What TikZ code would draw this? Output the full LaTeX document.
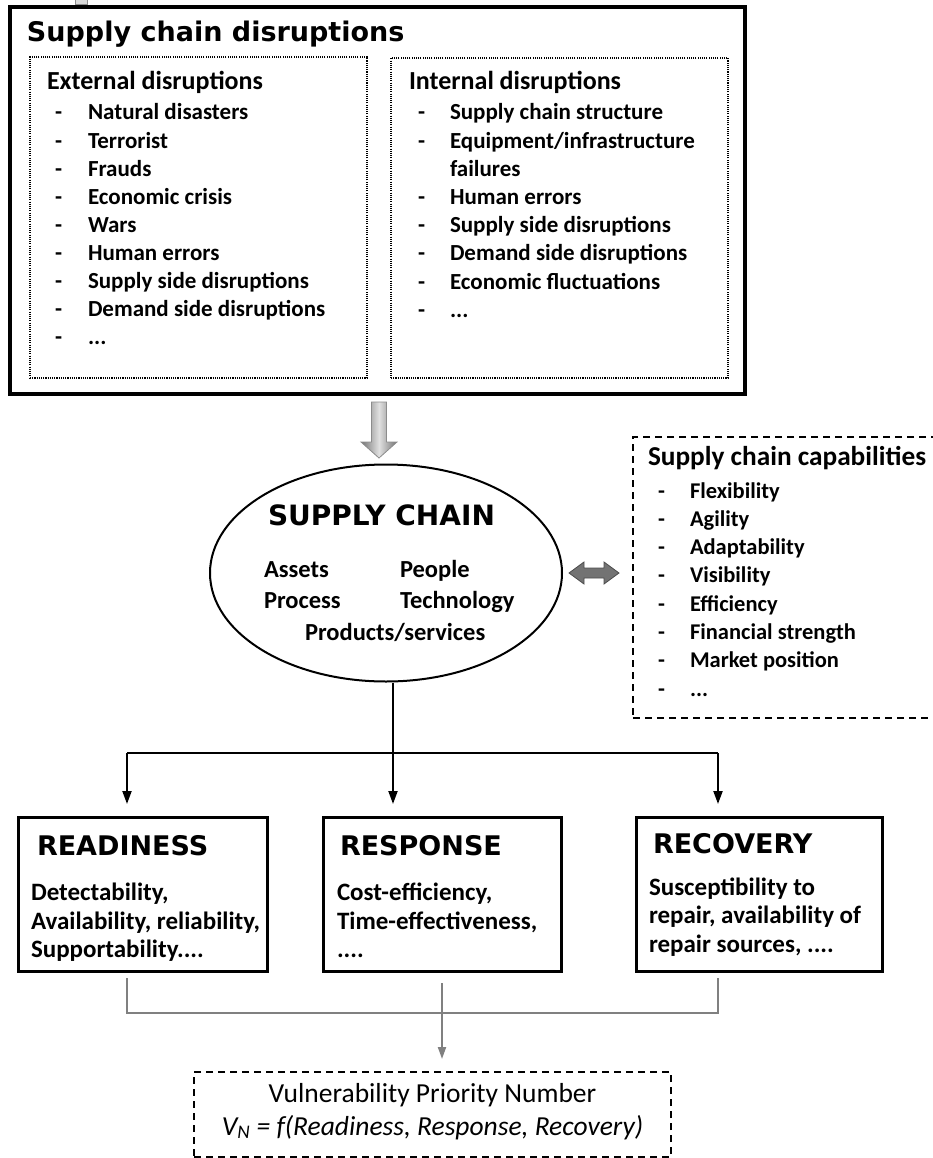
\documentclass[tikz,border=0pt]{standalone}
\usepackage{fontspec}
\setmainfont{Carlito}
\newfontfamily\headfont{DejaVu Sans}
\usetikzlibrary{shapes.geometric, arrows.meta}
\newcommand{\etcdots}{...}

\begin{document}
\begin{tikzpicture}[x=1pt, y=-1pt,
  txt/.style={anchor=base west, inner sep=0pt, outer sep=0pt},
  bigtitle/.style={txt, font=\headfont\bfseries\fontsize{27}{32}\selectfont},
  listhead/.style={txt, font=\bfseries\fontsize{26}{30}\selectfont},
  caphead/.style={txt, font=\bfseries\fontsize{27.3}{31}\selectfont},
  entry/.style={txt, font=\bfseries\fontsize{23}{28}\selectfont},
  capentry/.style={txt, font=\bfseries\fontsize{22.5}{27}\selectfont},
  core/.style={txt, font=\bfseries\fontsize{24.5}{29}\selectfont},
  coretitle/.style={txt, font=\headfont\bfseries\fontsize{28}{33}\selectfont},
  phasehead/.style={txt, font=\headfont\bfseries\fontsize{27}{32}\selectfont},
  phasebody/.style={txt, font=\bfseries\fontsize{25}{29}\selectfont},
  vpntext/.style={anchor=base, inner sep=0pt, font=\fontsize{27.5}{32}\selectfont},
  frame/.style={draw, anchor=north west, inner sep=0pt, outer sep=0pt},
  dotbox/.style={frame, line width=1.6pt, dash pattern=on 1.1pt off 1.1pt},
  dashbox/.style={frame, line width=1.8pt, dash pattern=on 7pt off 5pt},
  phasebox/.style={frame, line width=3pt},
  conn/.style={line width=2pt, black},
  gconn/.style={line width=2pt, black!50},
  tip/.style={-{Triangle[length=13pt, width=9pt]}},
]
\useasboundingbox (0,0) rectangle (933,1158);

% small mark at the top edge
\draw[black!45, fill=black!15, line width=0.8pt] (75,-2) rectangle (87,4);

% ---- disruptions panel ----
\node[frame, line width=3.5pt, minimum width=735, minimum height=387] (outer) at (10,7) {};
\node[bigtitle] (title) at (27,42) {Supply chain disruptions};

\node[dotbox, minimum width=337, minimum height=321] (extbox) at (30,57) {};
\node[dotbox, minimum width=337, minimum height=320] (intbox) at (391,58) {};

\node[listhead] (exthead) at (47,90) {External disruptions};
\foreach \t [count=\i] in {Natural disasters, Terrorist, Frauds, Economic crisis, Wars,
    Human errors, Supply side disruptions, Demand side disruptions, \etcdots}{
  \node[entry] (extd\i) at (55,{120+28.1*(\i-1)}) {-};
  \node[entry] (ext\i) at (88,{120+28.1*(\i-1)}) {\t};
}

\node[listhead] (inthead) at (409,90) {Internal disruptions};
\foreach \t [count=\i] in {Supply chain structure, Equipment/infrastructure, failures,
    Human errors, Supply side disruptions, Demand side disruptions,
    Economic fluctuations, \etcdots}{
  \node[entry] (int\i) at (450,{120+28.2*(\i-1)}) {\t};
}
\foreach \i in {1,2,4,5,6,7,8}{
  \node[entry] (intd\i) at (418,{120+28.2*(\i-1)}) {-};
}

% shaded block arrow down to the supply chain
\draw[black!45, line width=0.8pt, left color=black!55, right color=black!55, middle color=black!12]
  (371.5,402) -- (386.5,402) -- (386.5,442) -- (397,442) -- (379,458)
  -- (361,442) -- (371.5,442) -- cycle;

% ---- supply chain ----
\node[draw, ellipse, line width=2pt, minimum width=352, minimum height=217,
  inner sep=0pt] (sc) at (386,573) {};
\node[coretitle] (sctitle) at (268,525) {SUPPLY CHAIN};
\node[core] (assets) at (264,577) {Assets};
\node[core] (people) at (400,577) {People};
\node[core] (process) at (264,608) {Process};
\node[core] (techn) at (400,608) {Technology};
\node[core] (prod) at (305,640) {Products/services};

% two-way arrow to the capabilities
\draw[black!70, line width=0.8pt, fill=black!55]
  (569,573) -- (584,562) -- (584,568) -- (604,568) -- (604,562) -- (619,573)
  -- (604,584) -- (604,578) -- (584,578) -- (584,584) -- cycle;

% ---- capabilities ----
\node[dashbox, minimum width=330, minimum height=281] (capbox) at (633,437) {};
\node[caphead] (caphd) at (648,465) {Supply chain capabilities};
\foreach \t [count=\i] in {Flexibility, Agility, Adaptability, Visibility, Efficiency,
    Financial strength, Market position, \etcdots}{
  \node[capentry] (capd\i) at (658,{498+28.3*(\i-1)}) {-};
  \node[capentry] (cap\i) at (690,{498+28.3*(\i-1)}) {\t};
}

% ---- phases ----
\node[phasebox, minimum width=249, minimum height=154] (rd) at (18,817) {};
\node[phasebox, minimum width=238, minimum height=154] (rs) at (323,817) {};
\node[phasebox, minimum width=246, minimum height=154] (rc) at (636,817) {};

\node[phasehead] (rdhead) at (37,855) {READINESS};
\node[phasebody] (rd1) at (31,900) {Detectability,};
\node[phasebody] (rd2) at (31,929) {Availability, reliability,};
\node[phasebody] (rd3) at (31,957) {Supportability....};

\node[phasehead] (rshead) at (340,855) {RESPONSE};
\node[phasebody] (rs1) at (337,900) {Cost-efficiency,};
\node[phasebody] (rs2) at (337,929) {Time-effectiveness,};
\node[phasebody] (rs3) at (337,957) {....};

\node[phasehead] (rchead) at (653,853) {RECOVERY};
\node[phasebody] (rc1) at (649,895) {Susceptibility to};
\node[phasebody] (rc2) at (649,923) {repair, availability of};
\node[phasebody] (rc3) at (649,952) {repair sources, ....};

% branching from the supply chain to the phases
\coordinate (bl) at (127,753);
\coordinate (bm) at (393,753);
\coordinate (br) at (718,753);
\draw[conn] (bm |- sc.south) -- (bm);
\draw[conn] (bl) -- (br);
\draw[conn, tip, shorten >=13pt] (bl) -- (bl |- rd.north);
\draw[conn, tip, shorten >=13pt] (bm) -- (bm |- rs.north);
\draw[conn, tip, shorten >=13pt] (br) -- (br |- rc.north);

% ---- vulnerability priority number ----
\node[dashbox, minimum width=477, minimum height=85] (vpn) at (194,1072) {};
\node[vpntext] (vpn1) at (432.5,1102) {Vulnerability Priority Number};
\node[vpntext, font=\itshape\fontsize{27.5}{32}\selectfont] (vpn2)
  at (432.5,1135) {V\textsubscript{N} = f(Readiness, Response, Recovery)};

% merging the phases into the priority number
\coordinate (gl) at (127,1013);
\coordinate (gm) at (442,1013);
\coordinate (gr) at (718,1013);
\draw[gconn, shorten <=7pt, shorten >=7pt] (gl |- rd.south) -- (gl) -- (gr) -- (gr |- rc.south);
\draw[gconn, -{Triangle[length=12pt, width=8pt]}, shorten <=12pt, shorten >=13pt]
  (gm |- rs.south) -- (gm |- vpn.north);
\end{tikzpicture}
\end{document}
